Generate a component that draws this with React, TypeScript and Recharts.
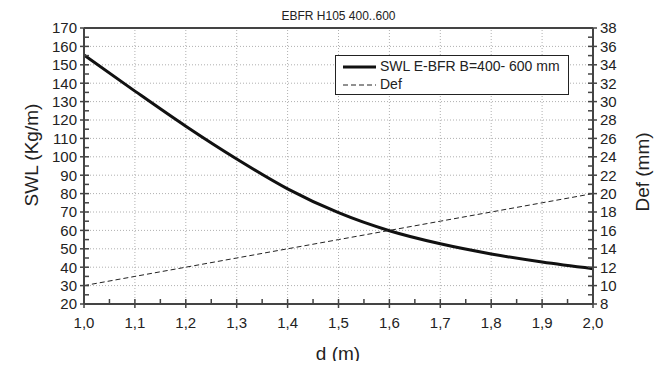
import { LineChart, Line, XAxis, YAxis, ReferenceLine, Legend } from "recharts";

// d (m)
const dValues = [1.0, 1.1, 1.2, 1.3, 1.4, 1.5, 1.6, 1.7, 1.8, 1.9, 2.0];
// SWL E-BFR B=400- 600 mm (Kg/m)
const swlValues = [155.3, 135.7, 116.6, 98.8, 82.6, 69.6, 59.8, 52.7, 47.2, 42.8, 39.2];
// Def (mm)
const defValues = [10, 11, 12, 13, 14, 15, 16, 17, 18, 19, 20];

const xMajorTicks = [1.0, 1.1, 1.2, 1.3, 1.4, 1.5, 1.6, 1.7, 1.8, 1.9, 2.0];
const leftMajorTicks = [20, 30, 40, 50, 60, 70, 80, 90, 100, 110, 120, 130, 140, 150, 160, 170];
const rightMajorTicks = [8, 10, 12, 14, 16, 18, 20, 22, 24, 26, 28, 30, 32, 34, 36, 38];

// minor ticks sit half-way between major ticks
const withMinor = (major: number[]) => {
  const out: number[] = [];
  major.forEach((v, i) => {
    out.push(v);
    if (i < major.length - 1) out.push((v + major[i + 1]) / 2);
  });
  return out;
};
const xAllTicks = withMinor(xMajorTicks);
const leftAllTicks = withMinor(leftMajorTicks);
const rightAllTicks = withMinor(rightMajorTicks);

const data = dValues.map((d, i) => ({ d, swl: swlValues[i], def: defValues[i] }));

const FONT = "'Liberation Sans', Arial, Helvetica, sans-serif";
const AXIS = "#444";
const TEXT = "#222";
const isIn = (list: number[], v: number) => list.some((m) => Math.abs(m - v) < 1e-6);

const XTick = ({ x, y, payload }: any) => {
  const major = isIn(xMajorTicks, payload.value);
  return (
    <g>
      <line x1={x} x2={x} y1={y - 5} y2={major ? y + 4 : y} stroke={AXIS} strokeWidth={1.5} />
      {major && (
        <text x={x} y={y + 24} textAnchor="middle" fontSize={15} fill={TEXT} fontFamily={FONT}>
          {payload.value.toFixed(1).replace(".", ",")}
        </text>
      )}
    </g>
  );
};

const LeftTick = ({ x, y, payload }: any) => {
  const major = isIn(leftMajorTicks, payload.value);
  return (
    <g>
      <line x1={major ? x - 4 : x} x2={x + 5} y1={y} y2={y} stroke={AXIS} strokeWidth={1.5} />
      {major && (
        <text x={x - 7} y={y} dy="0.36em" textAnchor="end" fontSize={15} fill={TEXT} fontFamily={FONT}>
          {payload.value}
        </text>
      )}
    </g>
  );
};

const RightTick = ({ x, y, payload }: any) => {
  const major = isIn(rightMajorTicks, payload.value);
  return (
    <g>
      <line x1={x - 5} x2={major ? x + 4 : x} y1={y} y2={y} stroke={AXIS} strokeWidth={1.5} />
      {major && (
        <text x={x + 7} y={y} dy="0.36em" textAnchor="start" fontSize={15} fill={TEXT} fontFamily={FONT}>
          {payload.value}
        </text>
      )}
    </g>
  );
};

const LegendBox = () => (
  <div
    style={{
      position: "relative",
      width: 232,
      height: 38,
      border: "1px solid #222",
      background: "#fff",
      fontFamily: FONT,
      fontSize: 14,
      color: TEXT,
    }}
  >
    <svg width={40} height={38} style={{ position: "absolute", left: 0, top: 0 }}>
      <line x1={7} x2={40} y1={11} y2={11} stroke="#111" strokeWidth={3} />
      <line x1={7} x2={40} y1={29} y2={29} stroke="#222" strokeWidth={1} strokeDasharray="5 3" />
    </svg>
    <div style={{ position: "absolute", left: 44, top: 2, whiteSpace: "nowrap" }}>SWL E-BFR B=400- 600 mm</div>
    <div style={{ position: "absolute", left: 44, top: 20, whiteSpace: "nowrap" }}>Def</div>
  </div>
);

const App = () => {
  return (
    <div style={{ position: "relative", width: 646, height: 353, fontFamily: FONT }}>
      <LineChart width={646} height={353} data={data} margin={{ top: 20, right: 0, bottom: 0, left: 0 }}>
        {xMajorTicks.slice(1, -1).map((v) => (
          <ReferenceLine key={`vx-${v}`} x={v} yAxisId="left" stroke="#b0b0b0" strokeDasharray="1 2" />
        ))}
        {leftMajorTicks.slice(1, -1).map((v) => (
          <ReferenceLine key={`hy-${v}`} y={v} yAxisId="left" stroke="#b0b0b0" strokeDasharray="1 2" />
        ))}
        <ReferenceLine y={170} yAxisId="left" stroke={AXIS} strokeWidth={2} />
        <XAxis
          dataKey="d"
          type="number"
          domain={[1, 2]}
          ticks={xAllTicks}
          interval={0}
          height={57}
          tickSize={0}
          tickMargin={0}
          tickLine={false}
          axisLine={{ stroke: AXIS, strokeWidth: 2 }}
          tick={XTick}
        />
        <YAxis
          yAxisId="left"
          type="number"
          domain={[20, 170]}
          ticks={leftAllTicks}
          interval={0}
          width={76}
          tickSize={0}
          tickMargin={0}
          tickLine={false}
          axisLine={{ stroke: AXIS, strokeWidth: 2 }}
          tick={LeftTick}
        />
        <YAxis
          yAxisId="right"
          orientation="right"
          type="number"
          domain={[8, 38]}
          ticks={rightAllTicks}
          interval={0}
          width={61}
          tickSize={0}
          tickMargin={0}
          tickLine={false}
          axisLine={{ stroke: AXIS, strokeWidth: 2 }}
          tick={RightTick}
        />
        <Line
          yAxisId="left"
          type="monotone"
          dataKey="swl"
          stroke="#111"
          strokeWidth={3}
          dot={false}
          activeDot={false}
          isAnimationActive={false}
        />
        <Line
          yAxisId="right"
          type="linear"
          dataKey="def"
          stroke="#222"
          strokeWidth={1}
          strokeDasharray="5 3"
          dot={false}
          activeDot={false}
          isAnimationActive={false}
        />
        <Legend
          layout="horizontal"
          verticalAlign="middle"
          align="center"
          content={<LegendBox />}
          wrapperStyle={{ left: 327, top: 47, width: 234, height: 40 }}
        />
      </LineChart>
      <div style={{ position: "absolute", left: 76, width: 509, top: 1, textAlign: "center", fontSize: 12, color: TEXT }}>
        EBFR H105 400..600
      </div>
      <div style={{ position: "absolute", left: 230, width: 200, top: 335, textAlign: "center", fontSize: 19, color: TEXT }}>
        d (m)
      </div>
      <div
        style={{
          position: "absolute",
          left: 24 - 80,
          top: 147 - 12,
          width: 160,
          height: 24,
          lineHeight: "24px",
          textAlign: "center",
          fontSize: 19,
          color: TEXT,
          transform: "rotate(-90deg)",
        }}
      >
        SWL (Kg/m)
      </div>
      <div
        style={{
          position: "absolute",
          left: 635 - 80,
          top: 164 - 12,
          width: 160,
          height: 24,
          lineHeight: "24px",
          textAlign: "center",
          fontSize: 19,
          color: TEXT,
          transform: "rotate(-90deg)",
        }}
      >
        Def (mm)
      </div>
    </div>
  );
};

export default App;
